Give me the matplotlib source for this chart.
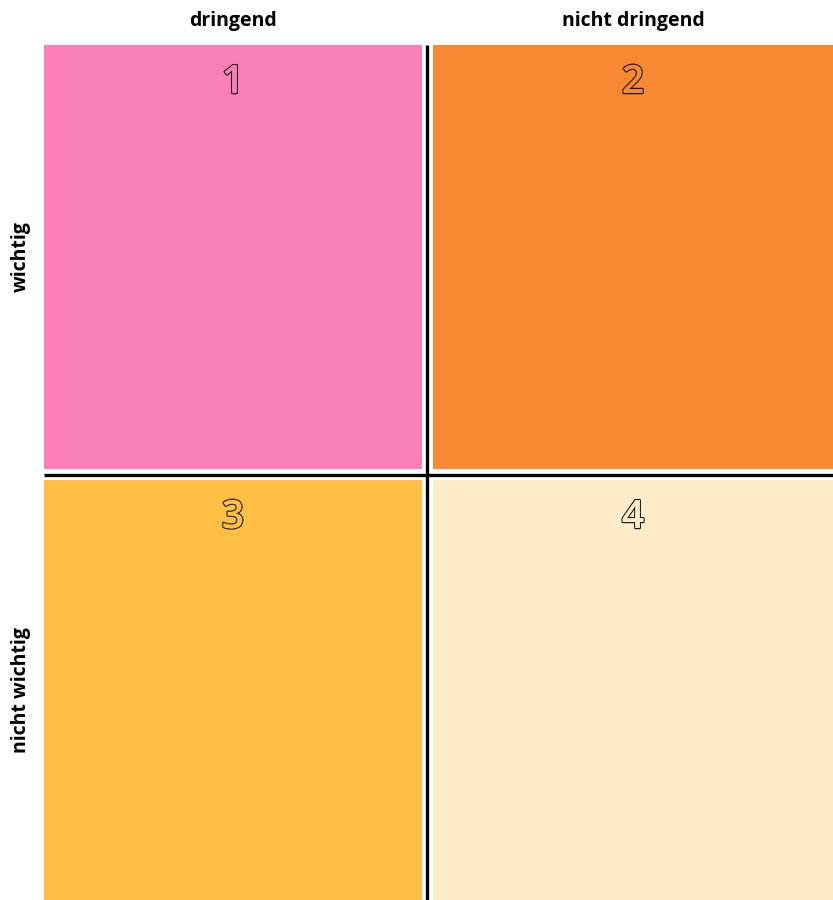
## Eisenhower matrix: four coloured quadrants with outlined numbers
import matplotlib
matplotlib.use("Agg")
from matplotlib import pyplot as plt
from matplotlib.patches import Rectangle
import matplotlib.patheffects as pe

col_labels = ["dringend", "nicht dringend"]
row_labels = ["wichtig", "nicht wichtig"]
numbers = [["1", "2"], ["3", "4"]]
colors = [["#F97FB6", "#F88831"], ["#FFBE44", "#FEEBC8"]]

# pixel layout of the grid
col_edges = [(44, 422), (433, 833)]
row_edges = [(45, 469), (480, 900)]
vline_x = 427.5
hline_y = 474.5

fig = plt.figure(figsize=(8.33, 9), dpi=100)
ax = fig.add_axes([0, 0, 1, 1])
ax.set_xlim(0, 833)
ax.set_ylim(900, 0)
ax.axis("off")

for r in range(2):
    for c in range(2):
        x0, x1 = col_edges[c]
        y0, y1 = row_edges[r]
        ax.add_patch(Rectangle((x0, y0), x1 - x0, y1 - y0, color=colors[r][c], lw=0))
        t = ax.text((x0 + x1) / 2, y0 + 38, numbers[r][c], ha="center", va="center",
                    fontsize=28, fontweight="semibold", color=colors[r][c],
                    family="Open Sans")
        t.set_path_effects([pe.withStroke(linewidth=1.8, foreground="#1a1a1a"),
                            pe.Normal()])

ax.plot([vline_x, vline_x], [45, 900], color="black", lw=2.4, solid_capstyle="butt")
ax.plot([44, 833], [hline_y, hline_y], color="black", lw=2.4, solid_capstyle="butt")

for c in range(2):
    x0, x1 = col_edges[c]
    ax.text((x0 + x1) / 2, 21, col_labels[c], ha="center", va="center",
            fontsize=14, fontweight="bold", family="Open Sans")
for r in range(2):
    y0, y1 = row_edges[r]
    ax.text(21, (y0 + y1) / 2, row_labels[r], ha="center", va="center",
            rotation=90, fontsize=14, fontweight="bold", family="Open Sans")

fig.savefig("out.png", dpi=100)
